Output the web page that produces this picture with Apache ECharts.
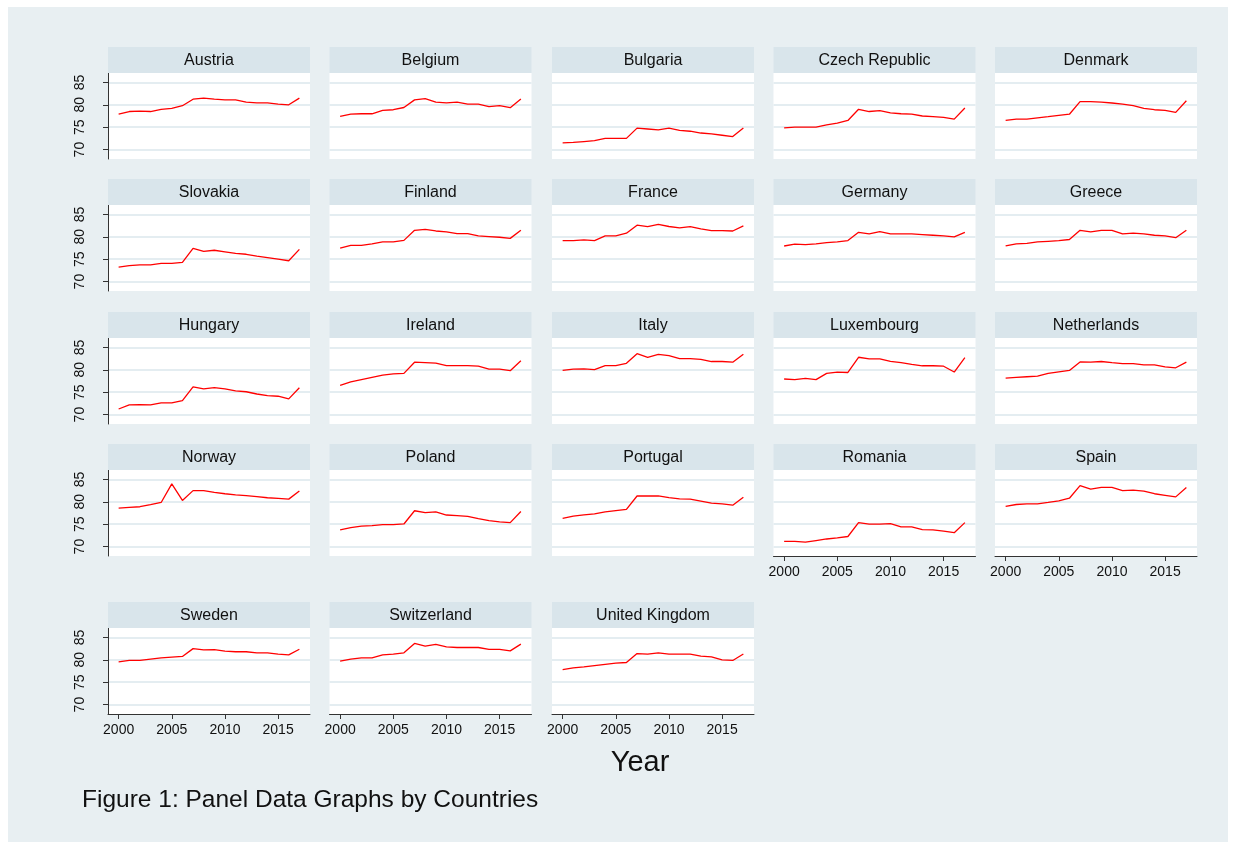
<!DOCTYPE html>
<html><head><meta charset="utf-8">
<script src="https://cdn.jsdelivr.net/npm/echarts@6/dist/echarts.min.js"></script>
<style>
html,body{margin:0;padding:0;background:#fff;}
#bg{position:absolute;left:8px;top:7px;width:1220px;height:835px;background:#e8eff2;}
#chart{position:absolute;left:0;top:0;width:1236px;height:849px;}
</style></head><body><div id="bg"></div><div id="chart"></div>
<script>
const years = [2000,2001,2002,2003,2004,2005,2006,2007,2008,2009,2010,2011,2012,2013,2014,2015,2016,2017];
const xTicks = [2000,2005,2010,2015];
const yTicks = [70,75,80,85];
const countries = ["Austria","Belgium","Bulgaria","Czech Republic","Denmark",
  "Slovakia","Finland","France","Germany","Greece",
  "Hungary","Ireland","Italy","Luxembourg","Netherlands",
  "Norway","Poland","Portugal","Romania","Spain",
  "Sweden","Switzerland","United Kingdom"];

const austria     = [77.9,78.5,78.6,78.5,79.0,79.2,79.8,81.25,81.5,81.25,81.1,81.1,80.6,80.45,80.45,80.15,80.0,81.5];
const belgium     = [77.4,77.9,78.0,78.0,78.75,78.9,79.4,81.1,81.4,80.6,80.45,80.6,80.15,80.15,79.6,79.8,79.35,81.3];
const bulgaria    = [71.5,71.6,71.8,72.0,72.5,72.5,72.5,74.8,74.6,74.4,74.8,74.3,74.1,73.7,73.5,73.2,72.9,74.8];
const czech       = [74.85,75.0,75.0,75.0,75.5,75.9,76.5,79.0,78.5,78.7,78.2,78.0,77.9,77.5,77.35,77.2,76.8,79.3];
const denmark     = [76.5,76.8,76.8,77.1,77.35,77.65,77.9,80.7,80.7,80.6,80.4,80.15,79.8,79.2,78.9,78.75,78.3,80.9];
const slovakia    = [73.25,73.55,73.75,73.75,74.05,74.05,74.3,77.4,76.75,77.0,76.65,76.3,76.1,75.7,75.35,75.0,74.65,77.2];
const finland     = [77.45,78.1,78.1,78.4,78.85,78.85,79.2,81.45,81.65,81.3,81.1,80.7,80.7,80.2,80.05,79.9,79.65,81.45];
const france      = [79.15,79.15,79.3,79.15,80.2,80.2,80.8,82.6,82.25,82.75,82.3,82.0,82.25,81.75,81.4,81.4,81.3,82.45];
const germany     = [77.95,78.35,78.25,78.4,78.7,78.85,79.15,81.0,80.65,81.15,80.65,80.65,80.65,80.5,80.35,80.2,80.0,81.0];
const greece      = [77.95,78.4,78.55,78.85,79.0,79.15,79.4,81.45,81.1,81.45,81.45,80.65,80.8,80.65,80.35,80.2,79.8,81.45];
const hungary     = [71.25,72.15,72.2,72.15,72.6,72.6,73.1,76.2,75.75,76.0,75.75,75.3,75.1,74.6,74.25,74.1,73.5,76.0];
const ireland     = [76.55,77.3,77.8,78.3,78.8,79.1,79.2,81.7,81.6,81.5,80.95,80.95,80.95,80.8,80.15,80.15,79.8,82.0];
const italy       = [79.85,80.15,80.2,80.05,80.95,80.95,81.45,83.6,82.8,83.45,83.15,82.5,82.5,82.35,81.85,81.85,81.7,83.45];
const luxembourg  = [77.95,77.8,78.1,77.8,79.2,79.5,79.4,82.8,82.45,82.45,81.9,81.6,81.2,80.9,80.9,80.8,79.5,82.7];
const netherlands = [78.15,78.3,78.45,78.6,79.2,79.55,79.85,81.75,81.7,81.85,81.6,81.4,81.4,81.1,81.1,80.65,80.45,81.7];
const norway      = [78.6,78.75,78.9,79.35,79.85,84.0,80.3,82.5,82.5,82.1,81.8,81.55,81.4,81.15,80.9,80.75,80.6,82.4];
const poland      = [73.75,74.25,74.55,74.7,74.9,74.9,75.05,78.0,77.6,77.75,77.05,76.9,76.75,76.25,75.8,75.5,75.35,77.85];
const portugal    = [76.3,76.8,77.1,77.3,77.75,78.05,78.3,81.3,81.3,81.3,80.95,80.65,80.6,80.15,79.7,79.55,79.25,81.0];
const romania     = [71.15,71.15,71.0,71.35,71.7,71.95,72.25,75.35,75.0,75.0,75.15,74.4,74.4,73.8,73.75,73.45,73.1,75.35];
const spain       = [79.0,79.4,79.55,79.55,79.85,80.2,80.8,83.6,82.85,83.2,83.2,82.5,82.6,82.4,81.8,81.45,81.1,83.2];
const sweden      = [79.55,79.85,79.85,80.15,80.45,80.6,80.75,82.5,82.2,82.25,81.95,81.8,81.8,81.55,81.55,81.25,81.1,82.35];
const switzerland = [79.7,80.15,80.45,80.45,81.1,81.25,81.55,83.65,83.05,83.45,82.9,82.75,82.75,82.75,82.35,82.35,82.0,83.5];
const uk          = [77.8,78.2,78.4,78.7,79.0,79.25,79.4,81.4,81.25,81.55,81.25,81.25,81.25,80.8,80.65,80.0,79.85,81.3];

const seriesValues = [austria,belgium,bulgaria,czech,denmark,slovakia,finland,france,germany,greece,
  hungary,ireland,italy,luxembourg,netherlands,norway,poland,portugal,romania,spain,sweden,switzerland,uk];

// layout (pixels)
const colLeft = [108, 329.5, 552, 773.5, 995];
const panelW = 202;
const headerTop = [47, 179, 312, 444, 602];
const headerH = 26;
const plotH = 86;
const bottomPanels = [18, 19, 20, 21, 22];
const FONT = "'Liberation Sans', Arial, Helvetica, sans-serif";

const grids = [], xAxes = [], yAxes = [], series = [], graphics = [];
countries.forEach((name, i) => {
  const r = Math.floor(i / 5), c = i % 5;
  const left = colLeft[c], top = headerTop[r];
  graphics.push({type:'rect', shape:{x:left, y:top, width:panelW, height:headerH}, style:{fill:'#d9e5eb'}, z:1});
  graphics.push({type:'text', x:left + panelW/2, y:top + headerH/2 + 0.5,
    style:{text:name, fill:'#111', font:'16px ' + FONT, textAlign:'center', textVerticalAlign:'middle'}, z:2});
  grids.push({left:left, top:top + headerH, width:panelW, height:plotH, show:true,
    backgroundColor:'#ffffff', borderWidth:0, containLabel:false});
  const isBottom = bottomPanels.indexOf(i) >= 0;
  xAxes.push({type:'value', gridIndex:i, min:1999, max:2018,
    axisLine:{show:isBottom, onZero:false, lineStyle:{color:'#333', width:1}},
    axisTick:{show:isBottom, length:5, customValues:xTicks, lineStyle:{color:'#333'}},
    axisLabel:{show:isBottom, customValues:xTicks, fontSize:14, color:'#111', fontFamily:FONT, margin:9,
      formatter: v => String(v)},
    splitLine:{show:false}});
  const isLeft = c === 0;
  yAxes.push({type:'value', gridIndex:i, min:67.9, max:87.1,
    axisLine:{show:isLeft, lineStyle:{color:'#333', width:1}},
    axisTick:{show:isLeft, length:5, customValues:yTicks, lineStyle:{color:'#333'}},
    axisLabel:{show:isLeft, customValues:yTicks, rotate:90, fontSize:14, color:'#111', fontFamily:FONT, margin:21,
      formatter: v => String(v)},
    splitLine:{show:true, lineStyle:{color:'#e4edf1', width:2}}});
  series.push({type:'line', xAxisIndex:i, yAxisIndex:i, showSymbol:false, symbol:'none',
    lineStyle:{color:'#ff0000', width:1.3}, itemStyle:{color:'#ff0000'}, animation:false,
    data: years.map((y, k) => [y, seriesValues[i][k]])});
});

graphics.push({type:'text', x:640, y:763, style:{text:'Year', fill:'#111', font:'29px ' + FONT, textAlign:'center', textVerticalAlign:'middle'}});
graphics.push({type:'text', x:82, y:800, style:{text:'Figure 1: Panel Data Graphs by Countries', fill:'#111', font:'24.5px ' + FONT, textAlign:'left', textVerticalAlign:'middle'}});

const chart = echarts.init(document.getElementById('chart'), null, {renderer:'canvas'});
chart.setOption({animation:false, backgroundColor:'transparent', grid:grids, xAxis:xAxes, yAxis:yAxes, series:series, graphic:graphics});
</script></body></html>
